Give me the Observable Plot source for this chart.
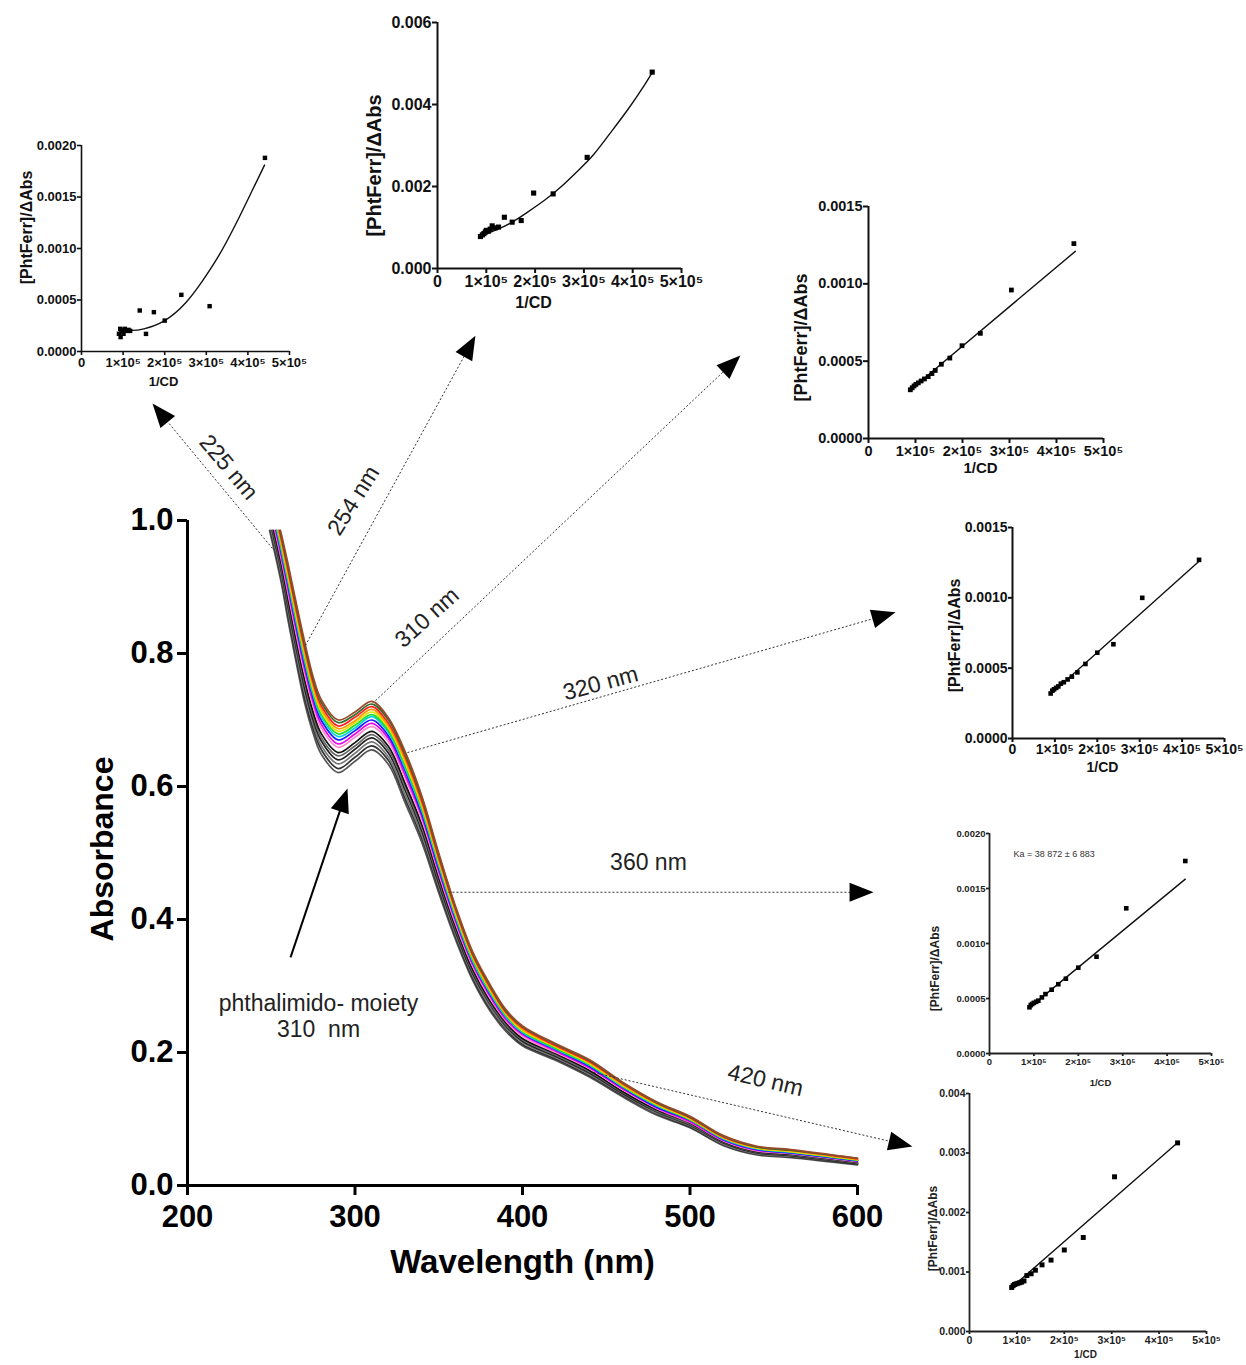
<!DOCTYPE html>
<html><head><meta charset="utf-8">
<script src="https://cdn.jsdelivr.net/npm/d3@7"></script>
<script src="https://cdn.jsdelivr.net/npm/@observablehq/plot@0.6"></script>
<style>
body{margin:0;background:#fff;}
#fig{position:relative;width:1246px;height:1365px;overflow:hidden;background:#fff;}
#fig svg{position:absolute;}
</style></head><body><div id="fig"></div>
<script>
// ---------------- main spectra data ----------------
const wavelengths = [256,260,265,270,275,280,290,300,310,320,330,340,350,360,370,380,390,400,420,440,460,480,500,520,540,560,600];
const seriesNames = ["c0","c1","c2","c3","c4","c5","c6","c7","c8","c9","k0","k1","k2","k3","k4","k5"];
const seriesStartWl = [255.5,255.2,254.8,254.4,254.1,253.8,253.4,253.1,252.6,252.2,251.5,251.0,250.6,250.0,249.5,249.0];
const seriesStartAbs = [0.985,0.985,0.985,0.985,0.985,0.985,0.985,0.985,0.985,0.985,0.985,0.985,0.985,0.985,0.985,0.985];
const abs_c0 = [.980,.935,.875,.817,.765,.730,.700,.712,.728,.703,.652,.585,.500,.420,.353,.305,.265,.240,.213,.189,.155,.126,.104,.075,.059,.054,.041];
const abs_c1 = [.976,.931,.871,.812,.761,.726,.696,.708,.724,.700,.648,.582,.497,.418,.351,.303,.263,.239,.212,.188,.154,.125,.103,.074,.058,.053,.041];
const abs_c2 = [.972,.926,.865,.807,.756,.721,.691,.704,.720,.695,.644,.577,.493,.415,.348,.301,.261,.237,.210,.186,.153,.124,.102,.073,.058,.053,.040];
const abs_c3 = [.967,.921,.860,.801,.751,.716,.687,.699,.716,.691,.639,.573,.490,.412,.346,.298,.259,.235,.209,.185,.151,.123,.101,.072,.057,.052,.039];
const abs_c4 = [.964,.916,.855,.797,.746,.712,.683,.696,.712,.688,.635,.570,.487,.409,.344,.296,.258,.233,.208,.183,.150,.122,.100,.072,.056,.051,.039];
const abs_c5 = [.960,.912,.851,.792,.742,.708,.679,.692,.708,.684,.631,.566,.484,.407,.341,.294,.256,.232,.206,.182,.149,.121,.099,.071,.056,.051,.038];
const abs_c6 = [.956,.908,.846,.788,.738,.704,.675,.688,.705,.681,.627,.563,.481,.404,.339,.292,.254,.230,.205,.181,.148,.120,.099,.070,.055,.050,.038];
const abs_c7 = [.952,.903,.841,.782,.733,.699,.670,.684,.700,.676,.623,.558,.477,.401,.337,.290,.253,.229,.204,.179,.147,.118,.098,.069,.054,.049,.037];
const abs_c8 = [.947,.897,.835,.776,.727,.693,.664,.679,.695,.672,.617,.554,.473,.398,.334,.287,.250,.227,.202,.177,.145,.117,.096,.068,.053,.049,.037];
const abs_c9 = [.942,.891,.828,.769,.721,.687,.659,.674,.690,.667,.612,.549,.469,.394,.331,.284,.248,.224,.200,.176,.144,.116,.095,.067,.052,.048,.036];
const abs_k0 = [.934,.882,.819,.760,.712,.679,.651,.666,.683,.660,.604,.542,.463,.389,.326,.280,.245,.221,.198,.173,.141,.114,.094,.066,.051,.047,.035];
const abs_k1 = [.929,.876,.813,.754,.706,.673,.646,.661,.678,.655,.599,.537,.459,.386,.323,.277,.242,.219,.196,.171,.140,.112,.092,.065,.050,.046,.034];
const abs_k2 = [.924,.870,.807,.747,.700,.668,.640,.656,.673,.650,.594,.532,.454,.382,.320,.275,.240,.217,.194,.169,.138,.111,.091,.064,.049,.045,.033];
const abs_k3 = [.918,.864,.799,.740,.694,.661,.634,.650,.667,.644,.587,.526,.450,.378,.317,.271,.237,.215,.192,.167,.137,.109,.090,.062,.048,.044,.033];
const abs_k4 = [.912,.857,.792,.732,.687,.655,.627,.644,.661,.639,.581,.521,.445,.374,.313,.268,.235,.212,.190,.165,.135,.108,.088,.061,.047,.043,.032];
const abs_k5 = [.906,.850,.785,.725,.680,.648,.621,.638,.655,.633,.575,.515,.440,.370,.310,.265,.232,.210,.188,.163,.133,.106,.087,.060,.046,.042,.031];
const seriesValues = [abs_c0,abs_c1,abs_c2,abs_c3,abs_c4,abs_c5,abs_c6,abs_c7,abs_c8,abs_c9,abs_k0,abs_k1,abs_k2,abs_k3,abs_k4,abs_k5];
const seriesColors = ["#9a4a2a","#2f6b2f","#ff2020","#ff9900","#e2e200","#22dd22","#00d0e0","#1a1aff","#ee00ee","#ff88cc","#111111","#666666","#222222","#777777","#333333","#555555"];

const xTicksMain = [200,300,400,500,600];
const yTicksMain = [0,0.2,0.4,0.6,0.8,1.0];

// annotation arrows (data units of the main chart)
const arrowLabels  = ["225 nm","254 nm","310 nm","320 nm","360 nm","420 nm"];
const arrowFromWl  = [250.7, 270.4, 312.2, 331.3, 355.8, 442.4];
const arrowFromAbs = [0.958, 0.812, 0.729, 0.651, 0.441, 0.170];
const arrowToWl    = [179.1, 371.9, 530.1, 622.7, 609.6, 632.8];
const arrowToAbs   = [1.176, 1.278, 1.248, 0.862, 0.441, 0.0586];
const labelWl      = [224.5, 299.1, 343.0, 446.6, 475.2, 545.1];
const labelAbs     = [1.080, 1.030, 0.854, 0.755, 0.486, 0.158];
const labelAngle   = [50, -58, -42, -15, 0, 13];
const moietyFrom = [261.5, 0.343];
const moietyTo   = [295.5, 0.597];
const moietyText = ["phthalimido- moiety", "310  nm"];
const moietyTextWl = [278.2, 278.2];
const moietyTextAbs = [0.274, 0.234];

// ---------------- inset data ----------------
const pts225X = [90000,93000,96000,98000,101000,104000,108000,113000,117000,94000,140000,155000,174000,200000,240000,308000,441000];
const pts225Y = [0.000172,0.00022,0.00019,0.000204,0.000172,0.00022,0.0002,0.00021,0.0002,0.00014,0.000398,0.000171,0.000382,0.0003,0.00055,0.00044,0.00188];
const fit225X = [90000,120000,150000,200000,250000,290000,330000,370000,410000,440000];
const fit225Y = [0.00021,0.000205,0.00022,0.0003,0.00047,0.00068,0.00093,0.00123,0.00156,0.00181];

const pts254X = [88000,92000,95000,98000,100000,104000,108000,112000,118000,125000,137000,153000,171500,197000,237000,306700,440000];
const pts254Y = [0.00078,0.00082,0.00085,0.00089,0.00093,0.00091,0.00096,0.00104,0.00099,0.00101,0.00125,0.00113,0.00117,0.00184,0.00182,0.00271,0.00479];
const fit254X = [88000,120000,150000,184000,220000,252000,290000,320000,350000,389000,420000,440000];
const fit254Y = [0.00078,0.00094,0.00111,0.00137,0.00167,0.00198,0.00241,0.00278,0.00324,0.00386,0.0044,0.00478];

const pts310X = [89000,93000,97000,101000,106000,112000,119000,127000,135000,142000,155000,173000,199000,238000,304000,437000];
const pts310Y = [0.000315,0.000328,0.00034,0.00035,0.00036,0.000372,0.000385,0.0004,0.00042,0.00044,0.00048,0.00052,0.0006,0.00068,0.00096,0.00126];
const fit310X = [89000,440000];
const fit310Y = [0.000314,0.00121];

const pts320X = [90000,94000,98000,103000,108000,114000,121000,130000,140000,153000,172000,200000,238000,306000,440000];
const pts320Y = [0.00032,0.00034,0.00035,0.00036,0.00037,0.00039,0.0004,0.00042,0.00044,0.00047,0.00053,0.00061,0.00067,0.001,0.00127];
const fit320X = [90000,440000];
const fit320Y = [0.000315,0.00126];

const pts360X = [90000,93000,96000,100000,105000,110000,118000,126000,140000,155000,172000,200000,241000,308000,441000];
const pts360Y = [0.00042,0.00044,0.00045,0.00046,0.00047,0.00048,0.00051,0.00054,0.00058,0.00063,0.00068,0.00078,0.00088,0.00132,0.00175];
const fit360X = [90000,441000];
const fit360Y = [0.000417,0.001585];

const pts420X = [89000,92000,95000,98000,102000,106000,110000,115000,121000,130000,139000,153000,172000,200000,240000,306000,439000];
const pts420Y = [0.00074,0.00077,0.00079,0.0008,0.00081,0.00082,0.00083,0.00085,0.00094,0.00097,0.00103,0.00112,0.0012,0.00137,0.00158,0.0026,0.00317];
const fit420X = [89000,440000];
const fit420Y = [0.00074,0.00318];

const insetXTicks = [0,100000,200000,300000,400000,500000];
const kaText = "Ka = 38 872 ± 6 883";
const kaPos = [54000, 0.00181];

// ---------------- layout / styles ----------------
const FONT = "'Liberation Sans', Arial, Helvetica, sans-serif";
const fig = document.getElementById("fig");
const main = {W:1246, H:1365, left:187, right:857, top:520, bottom:1185};
const xMain = d3.scaleLinear([200,600],[main.left, main.right]);
const yMain = d3.scaleLinear([0,1],[main.bottom, main.top]);

// arrow head shape, tip at origin pointing up
const headLen = 24, headHalf = 9.5;
const arrowHead = {draw(ctx){ctx.moveTo(0,0); ctx.lineTo(headHalf,headLen); ctx.lineTo(-headHalf,headLen); ctx.closePath();}};
function arrowGeom(fw, fa, tw, ta) {
  const x0 = xMain(fw), y0 = yMain(fa), x1 = xMain(tw), y1 = yMain(ta);
  const L = Math.hypot(x1-x0, y1-y0), ux = (x1-x0)/L, uy = (y1-y0)/L;
  return {x1: fw, y1: fa, x2: xMain.invert(x1 - ux*(headLen-2)), y2: yMain.invert(y1 - uy*(headLen-2)),
          tx: tw, ty: ta, rot: Math.atan2(ux, -uy)*180/Math.PI};
}
const arrows = arrowLabels.map((t,i) => ({...arrowGeom(arrowFromWl[i], arrowFromAbs[i], arrowToWl[i], arrowToAbs[i]),
  label: t, lx: labelWl[i], ly: labelAbs[i], angle: labelAngle[i]}));
const moiety = arrowGeom(moietyFrom[0], moietyFrom[1], moietyTo[0], moietyTo[1]);

const lineMarks = [];
const drawOrder = [15,14,13,12,11,10,9,8,7,6,5,4,3,2,1,0];
for (const i of drawOrder) {
  const rows = [{wl: seriesStartWl[i], a: seriesStartAbs[i]}]
    .concat(wavelengths.map((w,j) => ({wl: w, a: seriesValues[i][j]})));
  lineMarks.push(Plot.line(rows, {x:"wl", y:"a", curve:"catmull-rom", stroke: seriesColors[i], strokeWidth: 1.7}));
}

const mainPlot = Plot.plot({
  width: main.W, height: main.H,
  marginLeft: main.left, marginRight: main.W - main.right, marginTop: main.top, marginBottom: main.H - main.bottom,
  x: {domain: [200,600]}, y: {domain: [0,1]},
  style: {fontFamily: FONT, background: "transparent", overflow: "visible"},
  marks: [
    ...lineMarks,
    Plot.ruleX([200], {strokeWidth: 3}),
    Plot.ruleY([0], {strokeWidth: 3}),
    Plot.axisY({ticks: yTicksMain, tickFormat: d3.format(".1f"), tickSize: 10, tickPadding: 4, fontSize: 31, fontWeight: "bold", strokeWidth: 3, label: null}),
    Plot.axisX({ticks: xTicksMain, tickFormat: d3.format("d"), tickSize: 10, tickPadding: 9, fontSize: 31, fontWeight: "bold", strokeWidth: 3, label: null}),
    Plot.text(["Wavelength (nm)"], {text: d => d, frameAnchor: "bottom", textAnchor: "middle", lineAnchor: "middle", dy: 77, fontSize: 33, fontWeight: "bold"}),
    Plot.text(["Absorbance"], {text: d => d, frameAnchor: "left", textAnchor: "middle", lineAnchor: "middle", dx: -85, dy: -4, rotate: -90, fontSize: 32, fontWeight: "bold"}),
    Plot.link(arrows, {x1: "x1", y1: "y1", x2: "x2", y2: "y2", stroke: "#333", strokeWidth: 1, strokeDasharray: "2,2"}),
    Plot.dot(arrows, {x: "tx", y: "ty", symbol: arrowHead, rotate: "rot", fill: "#000", stroke: "none", r: 1}),
    Plot.text(arrows, {x: "lx", y: "ly", text: "label", rotate: "angle", fontSize: 23, fill: "#222"}),
    Plot.link([moiety], {x1: "x1", y1: "y1", x2: "x2", y2: "y2", stroke: "#000", strokeWidth: 2}),
    Plot.dot([moiety], {x: "tx", y: "ty", symbol: arrowHead, rotate: "rot", fill: "#000", stroke: "none", r: 1}),
    Plot.text(moietyText, {x: (d,i) => moietyTextWl[i], y: (d,i) => moietyTextAbs[i], text: d => d, fontSize: 23, fill: "#222"})
  ]
});
mainPlot.style.left = "0px"; mainPlot.style.top = "0px";
fig.appendChild(mainPlot);

// ---------------- insets ----------------
const insetData = [
  [pts225X, pts225Y, fit225X, fit225Y],
  [pts254X, pts254Y, fit254X, fit254Y],
  [pts310X, pts310Y, fit310X, fit310Y],
  [pts320X, pts320Y, fit320X, fit320Y],
  [pts360X, pts360Y, fit360X, fit360Y],
  [pts420X, pts420Y, fit420X, fit420Y]
];
const insetLayouts = [
  {box:[0,135,300,260],   frame:[81,289,145,351],    yMax:0.002,  yTicks:[0,0.0005,0.001,0.0015,0.002], yFmt:".4f", font:13,   tfont:13, ytfont:16, tick:4, axisW:1.6, dotR:2.5, yTitle:[26,227],  xTitle:[163,381], color:"#111"},
  {box:[360,10,340,310],  frame:[437,681,22,268],    yMax:0.006,  yTicks:[0,0.002,0.004,0.006],         yFmt:".3f", font:16,   tfont:16, ytfont:20, tick:5, axisW:2,   dotR:2.9, yTitle:[374,165], xTitle:[533,302], color:"#111"},
  {box:[780,190,360,290], frame:[868,1103,206,438],  yMax:0.0015, yTicks:[0,0.0005,0.001,0.0015],       yFmt:".4f", font:14.5, tfont:15, ytfont:18, tick:5, axisW:2,   dotR:2.7, yTitle:[801,337], xTitle:[980,468], color:"#111"},
  {box:[930,510,316,270], frame:[1012,1224,527,738], yMax:0.0015, yTicks:[0,0.0005,0.001,0.0015],       yFmt:".4f", font:14,   tfont:14, ytfont:16, tick:4, axisW:2,   dotR:2.6, yTitle:[954,635], xTitle:[1102,767], color:"#111"},
  {box:[920,820,326,270], frame:[989,1211,833,1053], yMax:0.002,  yTicks:[0,0.0005,0.001,0.0015,0.002], yFmt:".4f", font:9.5,  tfont:9.5, ytfont:12, tick:3, axisW:1.8, dotR:2.6, yTitle:[935,968], xTitle:[1100,1082], color:"#222"},
  {box:[920,1075,326,290],frame:[969,1206,1093,1331],yMax:0.004,  yTicks:[0,0.001,0.002,0.003,0.004],   yFmt:".3f", font:10.5, tfont:10, ytfont:12, tick:3, axisW:1.8, dotR:2.8, yTitle:[933,1228], xTitle:[1085,1354], color:"#222"}
];
const fmtX = d => d === 0 ? "0" : `${d/1e5}×10⁵`;

insetLayouts.forEach((c, k) => {
  const [L,T,W,H] = c.box, [x0,x1,y0,y1] = c.frame;
  const [px, py, fx, fy] = insetData[k];
  const pts = px.map((v,i) => ({x: v, y: py[i]}));
  const fit = fx.map((v,i) => ({x: v, y: fy[i]}));
  const marks = [
    Plot.ruleX([0], {strokeWidth: c.axisW, stroke: c.color}),
    Plot.ruleY([0], {strokeWidth: c.axisW, stroke: c.color}),
    Plot.axisX({ticks: insetXTicks, tickFormat: fmtX, tickSize: c.tick, tickPadding: 2, fontSize: c.font, fontWeight: "bold", strokeWidth: c.axisW, stroke: c.color, fill: c.color, label: null}),
    Plot.axisY({ticks: c.yTicks, tickFormat: d3.format(c.yFmt), tickSize: c.tick, tickPadding: 1, fontSize: c.font, fontWeight: "bold", strokeWidth: c.axisW, stroke: c.color, fill: c.color, label: null}),
    Plot.line(fit, {x: "x", y: "y", curve: "natural", stroke: "#111", strokeWidth: 1.4}),
    Plot.dot(pts, {x: "x", y: "y", symbol: "square", r: c.dotR, fill: "#000", stroke: "none"}),
    Plot.text(["[PhtFerr]/ΔAbs"], {text: d => d, frameAnchor: "top-left", textAnchor: "middle", lineAnchor: "middle", dx: c.yTitle[0]-x0, dy: c.yTitle[1]-y0, rotate: -90, fontSize: c.ytfont, fontWeight: "bold", fill: c.color}),
    Plot.text(["1/CD"], {text: d => d, frameAnchor: "top-left", textAnchor: "middle", lineAnchor: "middle", dx: c.xTitle[0]-x0, dy: c.xTitle[1]-y0, fontSize: c.tfont, fontWeight: "bold", fill: c.color})
  ];
  if (k === 4) marks.push(Plot.text([kaText], {x: () => kaPos[0], y: () => kaPos[1], text: d => d, textAnchor: "start", fontSize: 9, fill: "#333"}));
  const p = Plot.plot({
    width: W, height: H,
    marginLeft: x0 - L, marginRight: L + W - x1, marginTop: y0 - T, marginBottom: T + H - y1,
    x: {domain: [0, 500000]}, y: {domain: [0, c.yMax]},
    style: {fontFamily: FONT, background: "transparent", overflow: "visible"},
    marks
  });
  p.style.left = L + "px"; p.style.top = T + "px";
  fig.appendChild(p);
});
</script>
</body></html>
